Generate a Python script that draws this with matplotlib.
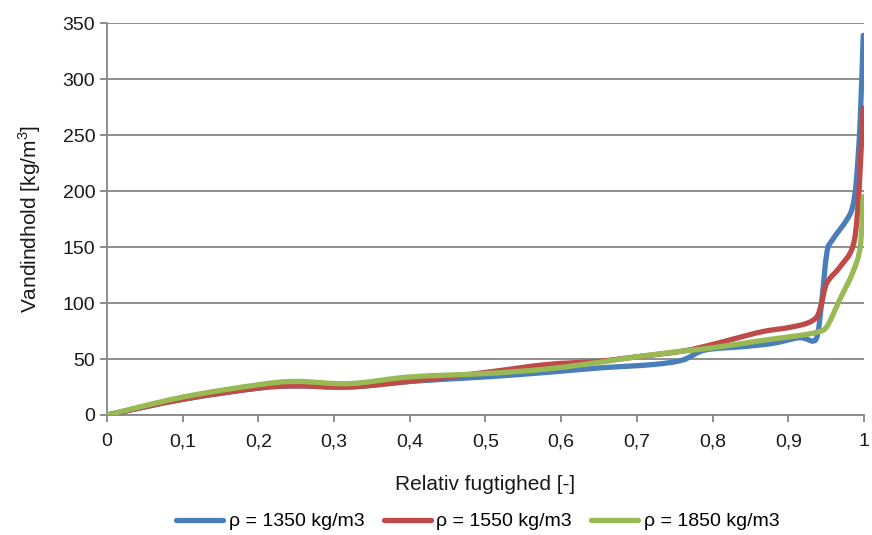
import matplotlib
matplotlib.use("Agg")
import matplotlib.pyplot as plt
from matplotlib.path import Path
from matplotlib.patches import PathPatch
from matplotlib.lines import Line2D

plt.rcParams['font.family'] = ['Liberation Sans Narrow', 'Liberation Sans', 'DejaVu Sans']

# rho = 1350 kg/m3
rh_1350 = [0, 0.1, 0.2, 0.25, 0.32, 0.4, 0.5, 0.58, 0.65, 0.72, 0.76, 0.79, 0.84,
           0.88, 0.915, 0.933, 0.939, 0.944, 0.951, 0.958, 0.977, 0.985, 0.99, 0.995, 0.999]
w_1350 = [0, 14, 24, 26, 25, 30, 34, 38, 42, 45, 49, 58, 61,
          64, 69, 66, 73, 100, 145, 156, 174, 186, 210, 263, 339]

# rho = 1550 kg/m3
rh_1550 = [0, 0.1, 0.2, 0.25, 0.32, 0.4, 0.5, 0.58, 0.65, 0.7, 0.76, 0.8, 0.845,
           0.87, 0.9, 0.925, 0.938, 0.944, 0.951, 0.968, 0.985, 0.992, 0.999]
w_1550 = [0, 14, 24, 26, 25, 30, 38, 45, 48, 52, 57, 63, 71,
          75, 78, 82, 88, 100, 118, 132, 150, 186, 274]

# rho = 1850 kg/m3
rh_1850 = [0, 0.1, 0.2, 0.25, 0.32, 0.4, 0.5, 0.58, 0.65, 0.7, 0.76, 0.8, 0.87,
           0.915, 0.938, 0.951, 0.968, 0.985, 0.995, 0.999]
w_1850 = [0, 16, 27, 30, 28, 34, 37, 41, 47, 52, 57, 60, 67,
          71, 74, 79, 103, 127, 150, 195]

labels = ["ρ = 1350 kg/m3", "ρ = 1550 kg/m3", "ρ = 1850 kg/m3"]
colors = ["#4A7EBB", "#BE4B48", "#98B954"]

x_ticks = [i / 10 for i in range(11)]
x_ticklabels = ["0", "0,1", "0,2", "0,3", "0,4", "0,5", "0,6", "0,7", "0,8", "0,9", "1"]
y_ticks = list(range(0, 351, 50))


def smooth_path(ax, xs, ys):
    # Excel style smoothed line: cubic bezier through the points, done in display space
    pts = ax.transData.transform(list(zip(xs, ys)))
    verts = [tuple(pts[0])]
    codes = [Path.MOVETO]
    n = len(pts)
    for i in range(n - 1):
        p0 = pts[i - 1] if i > 0 else pts[i]
        p1 = pts[i]
        p2 = pts[i + 1]
        p3 = pts[i + 2] if i + 2 < n else pts[i + 1]
        c1 = p1 + (p2 - p0) / 6.0
        c2 = p2 - (p3 - p1) / 6.0
        verts += [tuple(c1), tuple(c2), tuple(p2)]
        codes += [Path.CURVE4] * 3
    return Path(verts, codes)


fig = plt.figure(figsize=(8.72, 5.35), dpi=100)
ax = fig.add_axes([0.1227, 0.2243, 0.8681, 0.7327])
ax.set_xlim(0, 1)
ax.set_ylim(0, 350)

handles = []
for xs, ys, lab, col in zip([rh_1350, rh_1550, rh_1850], [w_1350, w_1550, w_1850], labels, colors):
    p = smooth_path(ax, xs, ys)
    ax.add_patch(PathPatch(p, transform=None, facecolor='none', edgecolor=col, lw=3.8,
                           joinstyle='round', capstyle='round', zorder=3))
    handles.append(Line2D([], [], color=col, lw=3.8, solid_capstyle='round', label=lab))

ax.set_xticks(x_ticks)
ax.set_xticklabels(x_ticklabels)
ax.set_yticks(y_ticks)
ax.yaxis.grid(True, color="#868686", lw=1.3)
ax.set_axisbelow(True)

for s in ["top", "right"]:
    ax.spines[s].set_visible(False)
for s in ["left", "bottom"]:
    ax.spines[s].set_color("#868686")
    ax.spines[s].set_linewidth(1.3)

ax.tick_params(axis='both', colors="#868686", labelcolor="#1a1a1a", labelsize=14,
               length=5, width=1.3)
ax.tick_params(axis='x', pad=8)

ax.set_xlabel("Relativ fugtighed [-]", fontsize=15, color="#1a1a1a", labelpad=18)
ax.set_ylabel("Vandindhold [kg/m$^\\mathregular{3}$]", fontsize=15, color="#1a1a1a", labelpad=14)

ax.legend(handles=handles, loc='upper center', bbox_to_anchor=(0.49, -0.205), ncol=3,
          frameon=False, fontsize=14, handlelength=2.4, handletextpad=0.3,
          columnspacing=1.0)

fig.savefig("out.png", dpi=100)
